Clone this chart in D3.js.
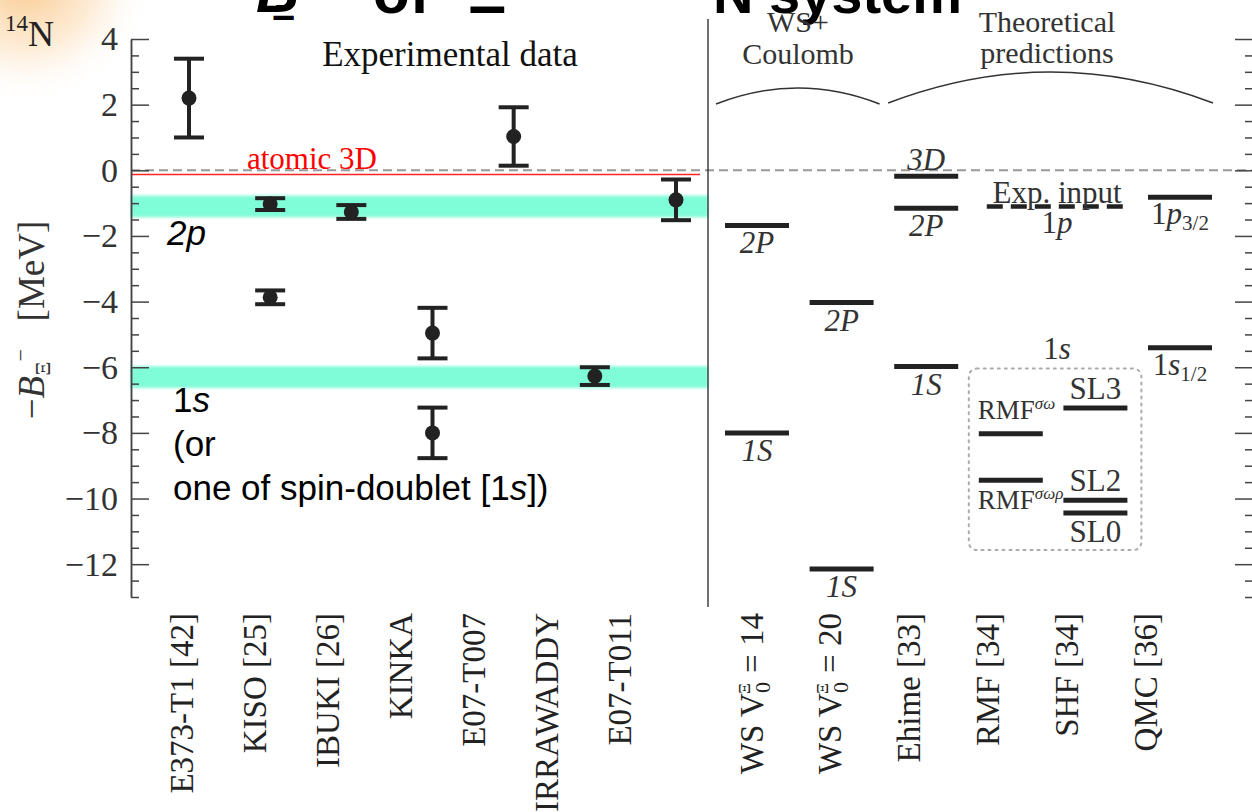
<!DOCTYPE html>
<html lang="en">
<head>
<meta charset="utf-8">
<script src="https://d3js.org/d3.v7.min.js"></script>
<style>
    body { margin: 0px; background: #fff; }
    svg { display: block; }
    .serif { font-family: "Liberation Serif", "Times New Roman", serif; }
    .sans { font-family: "Liberation Sans", Arial, sans-serif; }
</style>
</head>
<body>
<svg id="chart"></svg>
<script>
// Experimental data (left panel)
var expLabels = ["E373-T1 [42]", "KISO [25]", "IBUKI [26]", "KINKA", "E07-T007", "IRRAWADDY", "E07-T011"];
var expEvent  = ["E373-T1 [42]", "KISO [25]", "KISO [25]", "IBUKI [26]", "KINKA", "KINKA", "E07-T007", "IRRAWADDY", "E07-T011"];
var expValue  = [2.2, -1.03, -3.87, -1.27, -4.96, -8.00, 1.03, -6.27, -0.90];
var expError  = [1.2, 0.18, 0.21, 0.21, 0.77, 0.77, 0.89, 0.27, 0.62];

// Bands and reference lines
var bandNames  = ["2p", "1s"];
var bandValues = [-1.1, -6.3];
var atomic3D = -0.13;
var expInput = -1.1;

// Theoretical levels (right panel)
var theoryLabels = ["WS14", "WS20", "Ehime [33]", "RMF [34]", "SHF [34]", "QMC [36]"];
var levelModel = ["WS14", "WS14", "WS20", "WS20", "Ehime [33]", "Ehime [33]", "Ehime [33]", "RMF [34]", "RMF [34]", "SHF [34]", "SHF [34]", "SHF [34]", "QMC [36]", "QMC [36]"];
var levelValue = [-1.68, -8.0, -4.03, -12.15, -0.18, -1.16, -5.98, -8.03, -9.44, -7.24, -10.05, -10.44, -0.82, -5.41];
var levelName  = ["2P", "1S", "2P", "1S", "3D", "2P", "1S", "RMFsw", "RMFswr", "SL3", "SL2", "SL0", "1p3/2", "1s1/2"];

var yMajor = [-12, -10, -8, -6, -4, -2, 0, 2, 4];

var width = 1252, height = 812;
var svg = d3.select("#chart").attr("width", width).attr("height", height);
var defs = svg.append("defs");

// orange glow in the corner (slide decoration)
var glow = defs.append("radialGradient").attr("id", "glow");
glow.append("stop").attr("offset", "0").attr("stop-color", "#f6b15a").attr("stop-opacity", 0.75);
glow.append("stop").attr("offset", "0.55").attr("stop-color", "#fbd3a0").attr("stop-opacity", 0.45);
glow.append("stop").attr("offset", "1").attr("stop-color", "#ffffff").attr("stop-opacity", 0);
svg.append("circle").attr("cx", 25).attr("cy", -25).attr("r", 130).attr("fill", "url(#glow)");

defs.append("filter").attr("id", "soft")
    .append("feGaussianBlur").attr("stdDeviation", 1.8);

// scales
var y = d3.scaleLinear().domain([-13, 4]).range([597, 39]);
var xLeft = 131, xDiv = 708, xRight = 1253;
var xExp = d3.scalePoint().domain(expLabels).range([189, 676]);
var xExpLab = d3.scalePoint().domain(expLabels).range([181, 619]);
var xTh = d3.scalePoint().domain(theoryLabels).range([757, 1180]);
var xThLab = d3.scalePoint().domain(theoryLabels).range([751, 1145]);
var halfW = 32;
var ink = "#222";

// title (mostly cropped off the top)
var title = svg.append("g").attr("class", "sans").attr("font-weight", "bold").attr("fill", "#000");
title.append("text").attr("x", 256).attr("y", 12).attr("font-size", 60).attr("font-style", "italic").text("B");
title.append("text").attr("x", 272).attr("y", 20).attr("font-size", 36).text("Ξ");
title.append("text").attr("x", 373).attr("y", 13).attr("font-size", 60).text("of");
title.append("text").attr("x", 468).attr("y", 13).attr("font-size", 60).text("Ξ");
title.append("text").attr("x", 713).attr("y", 13).attr("font-size", 56).text("N system");

// 14N
var nuc = svg.append("text").attr("class", "serif").attr("x", 5).attr("y", 46).attr("fill", "#222");
nuc.append("tspan").attr("font-size", 23).attr("dy", -15).text("14");
nuc.append("tspan").attr("font-size", 36).attr("dy", 15).text("N");

// cyan bands
svg.append("g").attr("filter", "url(#soft)")
    .selectAll("rect").data(bandValues).enter().append("rect")
    .attr("x", xLeft).attr("width", xDiv - xLeft)
    .attr("y", function(d) { return y(d + 0.33); })
    .attr("height", function(d) { return y(d - 0.33) - y(d + 0.33); })
    .attr("fill", "#7ffcd8");

// zero line
svg.append("line").attr("x1", xLeft).attr("x2", width)
    .attr("y1", y(0)).attr("y2", y(0))
    .attr("stroke", "#999").attr("stroke-width", 2).attr("stroke-dasharray", "9,5");

// atomic 3D
svg.append("line").attr("x1", xLeft).attr("x2", 700)
    .attr("y1", y(atomic3D)).attr("y2", y(atomic3D))
    .attr("stroke", "#f22").attr("stroke-width", 1.6);
svg.append("text").attr("class", "serif").attr("x", 312).attr("y", y(0) - 1)
    .attr("text-anchor", "middle").attr("font-size", 31).attr("fill", "#f00").text("atomic 3D");

// axes
var leftMajor = d3.axisLeft(y).tickValues(yMajor).tickSizeInner(-18).tickSizeOuter(0).tickPadding(13);
var gl = svg.append("g").attr("transform", "translate(" + xLeft + ",0)").call(leftMajor);
gl.selectAll("text").attr("class", "serif").attr("font-size", 34).attr("fill", "#333");
var minors = d3.range(-13, 4.01, 0.5).filter(function(v) { return v % 2 !== 0; });
svg.append("g").attr("transform", "translate(" + xLeft + ",0)")
    .call(d3.axisLeft(y).tickValues(minors).tickSizeInner(-8).tickSizeOuter(0).tickFormat(""));
svg.append("g").attr("transform", "translate(" + xRight + ",0)")
    .call(d3.axisRight(y).tickValues(yMajor).tickSizeInner(-18).tickSizeOuter(0).tickFormat(""));
svg.append("g").attr("transform", "translate(" + xRight + ",0)")
    .call(d3.axisRight(y).tickValues(minors).tickSizeInner(-8).tickSizeOuter(0).tickFormat(""));
svg.selectAll(".domain, .tick line").attr("stroke", "#444").attr("stroke-width", 1.5);

// y label
var yl = svg.append("text").attr("class", "serif").attr("font-size", 37).attr("fill", "#333")
    .attr("text-anchor", "middle")
    .attr("transform", "translate(44,320) rotate(-90)");
yl.append("tspan").text("−");
yl.append("tspan").attr("font-style", "italic").text("B");
yl.append("tspan").attr("font-size", 22).attr("dy", 6).text("Ξ");
yl.append("tspan").attr("font-size", 22).attr("dy", -22).text("−");
yl.append("tspan").attr("dy", 16).text("\u00a0\u00a0\u00a0[MeV]");

// divider
svg.append("line").attr("x1", xDiv).attr("x2", xDiv).attr("y1", 19).attr("y2", 607)
    .attr("stroke", "#111").attr("stroke-width", 1.2);

// headers
svg.append("text").attr("class", "serif").attr("x", 450).attr("y", 66).attr("text-anchor", "middle")
    .attr("font-size", 35).attr("fill", "#111").text("Experimental data");
[["WS+", 798, 32], ["Coulomb", 798, 64], ["Theoretical", 1047, 32], ["predictions", 1047, 63]].forEach(function(h) {
    svg.append("text").attr("class", "serif").attr("x", h[1]).attr("y", h[2]).attr("text-anchor", "middle")
        .attr("font-size", 30).attr("fill", "#333").text(h[0]);
});
function brace(x0, x1, yEnd, yCtl) {
    svg.append("path").attr("d", "M" + x0 + "," + yEnd + " Q" + ((x0 + x1) / 2) + "," + yCtl + " " + x1 + "," + yEnd)
        .attr("fill", "none").attr("stroke", "#333").attr("stroke-width", 1.5);
}
brace(xTh("WS14") - 41, xTh("WS20") + 38, 104, 72);
brace(xTh("Ehime [33]") - 38, xTh("QMC [36]") + 33, 103, 41);

// left annotations
var ann = svg.append("g").attr("class", "sans").attr("font-size", 35).attr("fill", "#000");
ann.append("text").attr("x", 167).attr("y", 245).attr("font-style", "italic").text("2p");
var a1 = ann.append("text").attr("x", 173).attr("y", 412);
a1.append("tspan").text("1");
a1.append("tspan").attr("font-style", "italic").text("s");
ann.append("text").attr("x", 173).attr("y", 456).text("(or");
var a2 = ann.append("text").attr("x", 173).attr("y", 500);
a2.append("tspan").text("one of spin-doublet [1");
a2.append("tspan").attr("font-style", "italic").text("s");
a2.append("tspan").text("])");

// experimental points
var pts = svg.append("g").selectAll("g").data(expValue).enter().append("g")
    .attr("transform", function(d, i) { return "translate(" + xExp(expEvent[i]) + ",0)"; });
pts.append("line").attr("y1", function(d, i) { return y(d + expError[i]); })
    .attr("y2", function(d, i) { return y(d - expError[i]); })
    .attr("stroke", ink).attr("stroke-width", 4);
pts.append("line").attr("x1", -15).attr("x2", 15)
    .attr("y1", function(d, i) { return y(d + expError[i]); })
    .attr("y2", function(d, i) { return y(d + expError[i]); })
    .attr("stroke", ink).attr("stroke-width", 4);
pts.append("line").attr("x1", -15).attr("x2", 15)
    .attr("y1", function(d, i) { return y(d - expError[i]); })
    .attr("y2", function(d, i) { return y(d - expError[i]); })
    .attr("stroke", ink).attr("stroke-width", 4);
pts.append("circle").attr("cy", function(d) { return y(d); }).attr("r", 7.5).attr("fill", ink);

// x labels (rotated)
svg.append("g").selectAll("text").data(expLabels).enter().append("text")
    .attr("class", "serif").attr("font-size", 33).attr("fill", "#222")
    .attr("text-anchor", "end").attr("dy", "0.35em")
    .attr("transform", function(d) { return "translate(" + xExpLab(d) + ",613) rotate(-90)"; })
    .text(function(d) { return d; });

var thl = svg.append("g").selectAll("text").data(theoryLabels).enter().append("text")
    .attr("class", "serif").attr("font-size", 33).attr("fill", "#222")
    .attr("text-anchor", "end").attr("dy", "0.35em")
    .attr("transform", function(d) { return "translate(" + xThLab(d) + ",613) rotate(-90)"; });
thl.each(function(d) {
    var t = d3.select(this);
    if (d.indexOf("WS") === 0) {
        t.append("tspan").text("WS V");
        t.append("tspan").attr("font-size", 22).attr("dy", 7).text("0");
        t.append("tspan").attr("font-size", 17).attr("dx", -12).attr("dy", -20).text("Ξ");
        t.append("tspan").attr("dx", 2).attr("dy", 13).text(" = " + d.slice(2));
    } else {
        t.text(d);
    }
});

// theoretical levels
svg.append("g").selectAll("line").data(levelValue).enter().append("line")
    .attr("x1", function(d, i) { return xTh(levelModel[i]) - halfW; })
    .attr("x2", function(d, i) { return xTh(levelModel[i]) + halfW; })
    .attr("y1", function(d) { return y(d); }).attr("y2", function(d) { return y(d); })
    .attr("stroke", ink).attr("stroke-width", 5);

// exp input dashed level
svg.append("line").attr("x1", xTh("RMF [34]") - halfW + 8).attr("x2", xTh("SHF [34]") + halfW)
    .attr("y1", y(expInput)).attr("y2", y(expInput))
    .attr("stroke", ink).attr("stroke-width", 4.5).attr("stroke-dasharray", "16,8");

// level labels
var labG = svg.append("g").attr("class", "serif").attr("font-size", 31).attr("fill", "#333");
levelValue.forEach(function(v, i) {
    var name = levelName[i], cx = xTh(levelModel[i]), yy = y(v);
    var t;
    if (name === "3D") {
        t = labG.append("text").attr("x", cx).attr("y", yy - 6).attr("text-anchor", "middle")
            .attr("font-style", "italic").text("3D");
    } else if (name === "2P" || name === "1S") {
        t = labG.append("text").attr("x", cx).attr("y", yy + 28).attr("text-anchor", "middle")
            .attr("font-style", "italic").text(name);
    } else if (name === "RMFsw" || name === "RMFswr") {
        t = labG.append("text").attr("x", cx - 33).attr("y", name === "RMFsw" ? yy - 15 : yy + 29).attr("font-size", 27);
        t.append("tspan").text("RMF");
        t.append("tspan").attr("font-size", 17).attr("font-style", "italic").attr("dy", -10)
            .text(name === "RMFsw" ? "σω" : "σωρ");
    } else if (name === "SL0") {
        t = labG.append("text").attr("x", cx).attr("y", yy + 29).attr("text-anchor", "middle").text(name);
    } else if (name === "SL3" || name === "SL2") {
        t = labG.append("text").attr("x", cx).attr("y", yy - 9).attr("text-anchor", "middle").text(name);
    } else {
        t = labG.append("text").attr("x", cx).attr("y", yy + 27).attr("text-anchor", "middle");
        t.append("tspan").text("1");
        t.append("tspan").attr("font-style", "italic").text(name.charAt(1));
        t.append("tspan").attr("font-size", 21).attr("dy", 6).text(name.slice(2));
    }
});
var midRS = (xTh("RMF [34]") + xTh("SHF [34]")) / 2 + 4;
labG.append("text").attr("x", midRS).attr("y", y(expInput) - 3).attr("text-anchor", "middle").text("Exp. input");
var t1p = labG.append("text").attr("x", midRS).attr("y", y(expInput) + 27).attr("text-anchor", "middle");
t1p.append("tspan").text("1");
t1p.append("tspan").attr("font-style", "italic").text("p");
var t1s = labG.append("text").attr("x", midRS).attr("y", y(-5.75)).attr("text-anchor", "middle");
t1s.append("tspan").text("1");
t1s.append("tspan").attr("font-style", "italic").text("s");

// dotted box around RMF / SHF 1s
svg.append("rect")
    .attr("x", xTh("RMF [34]") - 42).attr("y", y(-6.04))
    .attr("width", xTh("SHF [34]") + 46 - (xTh("RMF [34]") - 42))
    .attr("height", y(-11.57) - y(-6.04))
    .attr("rx", 8).attr("fill", "none").attr("stroke", "#aaa")
    .attr("stroke-width", 2).attr("stroke-dasharray", "2,5").attr("stroke-linecap", "round");
</script>
</body>
</html>
